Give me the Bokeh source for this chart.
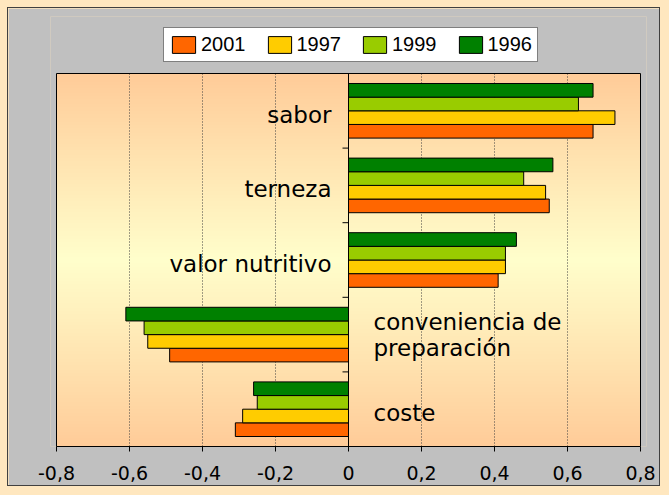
import numpy as np
from bokeh.plotting import figure
from bokeh.models import Range1d, FixedTicker, Legend, LegendItem, ColumnDataSource
from bokeh.core.properties import value
from bokeh.embed import file_html
from bokeh.resources import INLINE

# ---------------- data ----------------
categories = ["sabor", "terneza", "valor nutritivo", "conveniencia de\npreparación", "coste"]
series_names = ["2001", "1997", "1999", "1996"]
v2001 = [0.67, 0.55, 0.41, -0.49, -0.31]
v1997 = [0.73, 0.54, 0.43, -0.55, -0.29]
v1999 = [0.63, 0.48, 0.43, -0.56, -0.25]
v1996 = [0.67, 0.56, 0.46, -0.61, -0.26]
series_values = [v2001, v1997, v1999, v1996]
colors = ["#FF6600", "#FFCC00", "#99CC00", "#008000"]
x_ticks = [-0.8, -0.6, -0.4, -0.2, 0.0, 0.2, 0.4, 0.6, 0.8]
x_tick_labels = ["-0,8", "-0,6", "-0,4", "-0,2", "0", "0,2", "0,4", "0,6", "0,8"]

# ---------------- layout (pixels inside the figure) ----------------
ncat = len(categories)
W, H = 653, 479
PA_L, PA_R, PA_T, PA_B = 48, 632, 65, 438        # plot area (gradient box)
F_L, F_R, F_T = 42, 638, 8                        # frame (contains legend too)
x0, x1 = x_ticks[0], x_ticks[-1]
px_x = (PA_R - PA_L) / (x1 - x0)
px_y = (PA_B - PA_T) / ncat
x_start = x0 - (PA_L - F_L) / px_x
x_end = x1 + (F_R - PA_R) / px_x
y_end = ncat + (PA_T - F_T) / px_y

p = figure(width=W, height=H, title=None,
           x_range=Range1d(x_start, x_end), y_range=Range1d(0, y_end),
           y_axis_location=None,
           output_backend="svg", toolbar_location=None,
           min_border_left=F_L, min_border_right=W - F_R, min_border_top=F_T,
           min_border_bottom=H - PA_B)
p.border_fill_color = "#C0C0C0"
p.background_fill_color = "#C0C0C0"
p.outline_line_color = None
p.styles = {"border": "1px solid #404040"}
p.grid.visible = False

# gradient background of the plot area (peach -> pale yellow -> peach)
N = 240
t = (np.arange(N) + 0.5) / N
w = 1 - np.abs(2 * t - 1)
peach = np.array([255, 204, 153])
pale = np.array([255, 255, 204])
cols = (peach[None, :] * (1 - w[:, None]) + pale[None, :] * w[:, None]).astype(np.uint8)
img = np.empty((N, 2), dtype=np.uint32)
view = img.view(dtype=np.uint8).reshape((N, 2, 4))
for j in range(2):
    view[:, j, 0] = cols[:, 0]
    view[:, j, 1] = cols[:, 1]
    view[:, j, 2] = cols[:, 2]
    view[:, j, 3] = 255
p.image_rgba(image=[img], x=x0, y=0, dw=x1 - x0, dh=ncat, level="image")

# dotted vertical gridlines inside the plot area
grid_x = [t_ for t_ in x_ticks[1:-1] if t_ != 0]
p.segment(x0=grid_x, x1=grid_x, y0=[0] * len(grid_x), y1=[ncat] * len(grid_x),
          line_color="#404040", line_dash="1 2", line_width=1)

# plot-area border
p.quad(left=[x0], right=[x1], bottom=[0], top=[ncat], fill_color=None,
       line_color="black", line_width=1)

# bars
centers = [ncat - i - 0.5 for i in range(ncat)]
bar_h = 0.183
renderers = []
for k, (name, vals, col) in enumerate(zip(series_names, series_values, colors)):
    ys = [c + (k - 1.5) * bar_h for c in centers]
    src = ColumnDataSource(dict(y=ys, right=vals, left=[0] * ncat))
    r = p.hbar(y="y", right="right", left="left", height=bar_h, source=src,
               fill_color=col, line_color="black", line_width=1)
    renderers.append(r)

# category axis at zero: line + short ticks at category boundaries
p.segment(x0=[0], x1=[0], y0=[0], y1=[ncat], line_color="black", line_width=1)
bounds = list(range(1, ncat))
tick_dx = 6 / px_x
p.segment(x0=[0] * len(bounds), x1=[-tick_dx] * len(bounds), y0=bounds, y1=bounds,
          line_color="black", line_width=1)

# category labels next to the zero axis
lx, ly, lt, lxo, lyo, la = [], [], [], [], [], []
for i, cat in enumerate(categories):
    lines = cat.split("\n")
    n = len(lines)
    positive = v2001[i] > 0
    for k, line in enumerate(lines):
        lx.append(0)
        ly.append(centers[i])
        lt.append(line)
        lxo.append(-17 if positive else 25)
        lyo.append(4 - 16.5 * (n - 1) + 26 * k)
        la.append("right" if positive else "left")
lsrc = ColumnDataSource(dict(x=lx, y=ly, text=lt, xo=lxo, yo=lyo, align=la))
p.text(x="x", y="y", text="text", x_offset="xo", y_offset="yo", text_align="align",
       text_baseline="alphabetic", source=lsrc, text_font=value("DejaVu Sans"),
       text_font_size="23px", text_color="black")

# x axis
p.xaxis.bounds = (x0, x1)
p.xaxis.ticker = FixedTicker(ticks=x_ticks)
p.xaxis.major_label_overrides = {t_: lab for t_, lab in zip(x_ticks, x_tick_labels)}
p.xaxis.major_tick_out = 5
p.xaxis.major_tick_in = 0
p.xaxis.minor_tick_out = 0
p.xaxis.minor_tick_in = 0
p.xaxis.axis_line_color = "black"
p.xaxis.major_tick_line_color = "black"
p.xaxis.major_label_standoff = 14
p.xaxis.major_label_text_font = "DejaVu Sans"
p.xaxis.major_label_text_font_size = "19px"
p.xaxis.major_label_text_color = "black"

# legend (inside the enlarged frame, above the plot area)
legend = Legend(items=[LegendItem(label=n_, renderers=[r]) for n_, r in zip(series_names, renderers)],
                orientation="horizontal", location=(155 - F_L, PA_B - 54),
                padding=5, spacing=19, label_standoff=3,
                glyph_width=29, glyph_height=21, label_height=21,
                label_text_font="Liberation Sans", label_text_font_size="20px",
                label_text_color="black",
                border_line_color="black", border_line_width=1,
                background_fill_color="white", background_fill_alpha=1.0)
p.add_layout(legend)

html = file_html(p, INLINE, title="chart")
html = html.replace("</head>",
                    "<style>body{background:#FFE7BF; padding:7px !important;}</style></head>", 1)
open("out.html", "w").write(html)
